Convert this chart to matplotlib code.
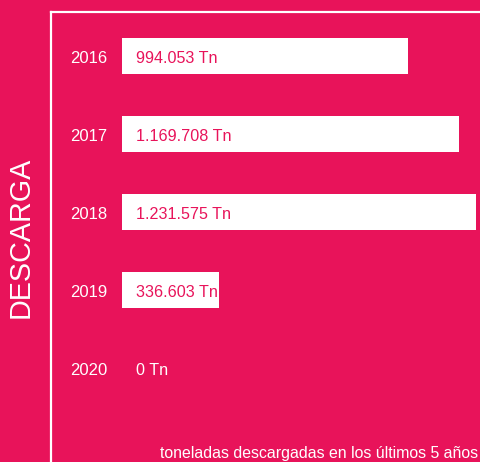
import matplotlib
matplotlib.use("Agg")
import matplotlib.pyplot as plt
from matplotlib.lines import Line2D
from matplotlib.transforms import blended_transform_factory, offset_copy

years = ["2016", "2017", "2018", "2019", "2020"]
values = [994053, 1169708, 1231575, 336603, 0]
labels = ["994.053 Tn", "1.169.708 Tn", "1.231.575 Tn", "336.603 Tn", "0 Tn"]
title = "DESCARGA"
note = "toneladas descargadas en los últimos 5 años"

BG = "#E8135A"
W, H = 481, 462
plt.rcParams['font.family'] = ['Liberation Sans', 'DejaVu Sans']

fig = plt.figure(figsize=(W / 100, H / 100), dpi=100, facecolor=BG)
ax = fig.add_axes([122 / W, 0, 1 - 122 / W, 1])
ax.set_facecolor(BG)
ax.axis("off")

pos = list(range(len(years)))
ax.barh(pos, values, height=0.465, color="white")
ax.set_xlim(0, (W - 122) / 2.8775e-4)
ax.set_ylim((H - 56) / 78.0, -56 / 78.0)

trans_lab = offset_copy(ax.transData, fig=fig, x=14, y=-2.5, units="dots")
for p, v, lab in zip(pos, values, labels):
    ax.text(0, p, lab, transform=trans_lab, ha="left", va="center",
            color=BG if v > 0 else "white", fontsize=11.6)

ytrans = offset_copy(blended_transform_factory(fig.transFigure, ax.transData),
                     fig=fig, x=0, y=-2.5, units="dots")
for p, y in zip(pos, years):
    ax.text(88.5 / W, p, y, transform=ytrans, ha="center", va="center",
            color="white", fontsize=12)

fig.text(21 / W, 1 - 237.5 / H, title, rotation=90, ha="center", va="center",
         color="white", fontsize=20.7)
fig.text(478 / W, 1 - 453.5 / H, note, ha="right", va="center",
         color="white", fontsize=11.4)

fig.add_artist(Line2D([50.5 / W, 50.5 / W], [0, 1 - 11.5 / H],
                      transform=fig.transFigure, color="white", lw=1.6))
fig.add_artist(Line2D([50.5 / W, 1], [1 - 11.5 / H, 1 - 11.5 / H],
                      transform=fig.transFigure, color="white", lw=1.6))

fig.savefig("out.png", dpi=100, facecolor=BG)
